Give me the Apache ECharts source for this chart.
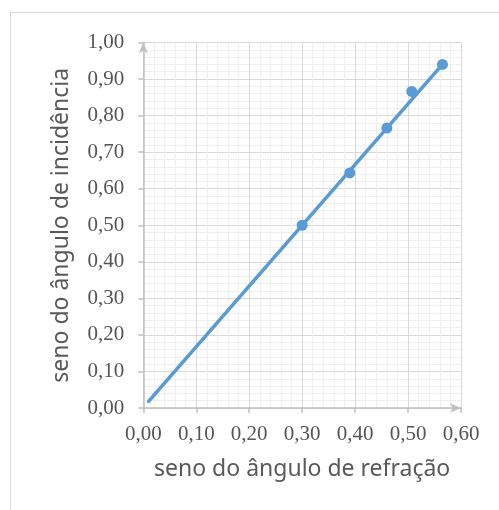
<!DOCTYPE html>
<html>
<head>
<meta charset="utf-8">
<script src="https://cdn.jsdelivr.net/npm/echarts@6/dist/echarts.min.js"></script>
<style>
  html, body { margin: 0; padding: 0; background: #ffffff; }
  #chart { width: 499px; height: 510px; }
</style>
</head>
<body>
<div id="chart"></div>
<script>
// Measured values: sine of refraction angle vs sine of incidence angle
const senoRefracao = [0.30, 0.39, 0.46, 0.507, 0.565];
const senoIncidencia = [0.50, 0.643, 0.766, 0.866, 0.940];

// Linear trendline end points
const tendenciaX = [0.01, 0.565];
const tendenciaY = [0.018, 0.940];

// Tick values
const xTicks = [0, 0.1, 0.2, 0.3, 0.4, 0.5, 0.6];
const yTicks = [0, 0.1, 0.2, 0.3, 0.4, 0.5, 0.6, 0.7, 0.8, 0.9, 1.0];

const pontos = senoRefracao.map((x, i) => [x, senoIncidencia[i]]);
const tendencia = tendenciaX.map((x, i) => [x, tendenciaY[i]]);

const fmt = v => v.toFixed(2).replace('.', ',');

const axisGray = '#bfbfbf';
const tickFont = { fontFamily: 'Liberation Serif', fontSize: 21, color: '#555555' };
const titleFont = { fontFamily: 'Noto Sans', fontSize: 23, color: '#595959' };

const chart = echarts.init(document.getElementById('chart'), null, { renderer: 'canvas' });
chart.setOption({
  animation: false,
  backgroundColor: '#ffffff',
  graphic: [{
    type: 'rect',
    shape: { x: 10.5, y: 12.5, width: 600, height: 600 },
    style: { fill: 'none', stroke: '#d9d9d9', lineWidth: 1 },
    silent: true,
    z: -10
  }],
  grid: { left: 143.3, right: 38, top: 42.5, bottom: 102 },
  xAxis: {
    type: 'value',
    min: xTicks[0],
    max: xTicks[xTicks.length - 1],
    interval: 0.1,
    name: 'seno do ângulo de refração',
    nameLocation: 'middle',
    nameGap: 50,
    nameTextStyle: titleFont,
    axisLine: { show: true, onZero: false, symbol: ['none', 'arrow'], symbolSize: [7, 11],
      lineStyle: { color: axisGray, width: 1.5 } },
    axisTick: { show: true, length: 5, lineStyle: { color: axisGray, width: 1.5 } },
    axisLabel: { ...tickFont, margin: 16, formatter: fmt },
    splitLine: { show: true, lineStyle: { color: '#d9d9d9', width: 1 } },
    minorTick: { show: false, splitNumber: 5 },
    minorSplitLine: { show: true, lineStyle: { color: '#eeeeee', width: 1 } }
  },
  yAxis: {
    type: 'value',
    min: yTicks[0],
    max: yTicks[yTicks.length - 1],
    interval: 0.1,
    name: 'seno do ângulo de incidência',
    nameLocation: 'middle',
    nameGap: 70,
    nameRotate: 90,
    nameTextStyle: titleFont,
    axisLine: { show: true, onZero: false, symbol: ['none', 'arrow'], symbolSize: [7, 11],
      lineStyle: { color: axisGray, width: 1.5 } },
    axisTick: { show: true, length: 5, lineStyle: { color: axisGray, width: 1.5 } },
    axisLabel: { ...tickFont, margin: 19, formatter: fmt },
    splitLine: { show: true, lineStyle: { color: '#d9d9d9', width: 1 } },
    minorTick: { show: false, splitNumber: 5 },
    minorSplitLine: { show: true, lineStyle: { color: '#eeeeee', width: 1 } }
  },
  series: [
    {
      type: 'line',
      data: tendencia,
      symbol: 'none',
      lineStyle: { color: '#5b9bd5', width: 3.6, cap: 'round' },
      z: 2
    },
    {
      type: 'scatter',
      data: pontos,
      symbol: 'circle',
      symbolSize: 11,
      itemStyle: { color: '#5b9bd5', opacity: 1 },
      z: 3
    }
  ]
});
</script>
</body>
</html>
